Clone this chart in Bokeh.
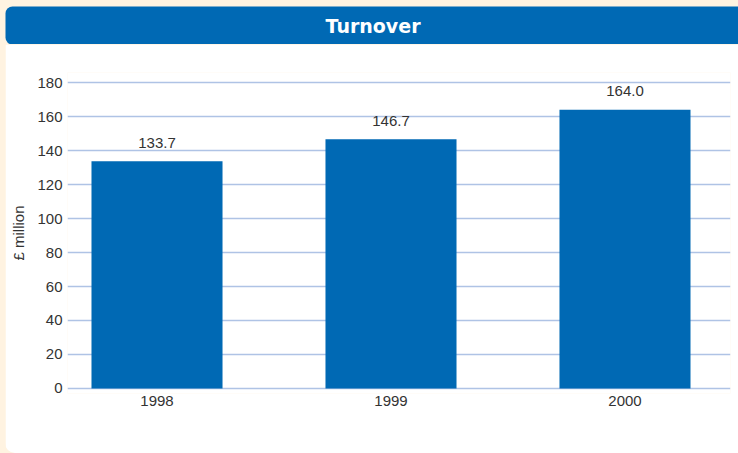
from bokeh.plotting import figure
from bokeh.layouts import column
from bokeh.models import ColumnDataSource, Range1d, FixedTicker, BoxAnnotation
from bokeh.embed import file_html
from bokeh.resources import INLINE
from bokeh.core.properties import value

title = "Turnover"
years = ["1998", "1999", "2000"]
turnover = [133.7, 146.7, 164.0]
y_ticks = [0, 20, 40, 60, 80, 100, 120, 140, 160, 180]
y_label = "£ million"

BLUE = "#0069B4"
TEXT = "#333333"
GRID = "#AFC3E5"
CREAM = "#FFF3E1"
FONT = "Liberation Sans"

# ---------- title bar ----------
TW, TH = 738, 44
t = figure(width=TW, height=TH, output_backend="svg", toolbar_location=None,
           x_range=Range1d(0, TW), y_range=Range1d(TH, 0),
           x_axis_type=None, y_axis_type=None, frame_align=False,
           min_border=0, min_border_left=0, min_border_right=0,
           min_border_top=0, min_border_bottom=0)
t.outline_line_color = None
t.background_fill_color = CREAM
t.border_fill_color = CREAM
t.grid.visible = False
t.add_layout(BoxAnnotation(left=5, right=TW + 20, top=6, bottom=TH,
                           fill_color=BLUE, fill_alpha=1.0, line_color=None,
                           border_radius=(7, 0, 0, 7), level="underlay"))
t.text(x=[372.5], y=[25], text=[title], text_align="center", text_baseline="middle",
       text_font=value("DejaVu Sans"), text_font_style="bold", text_font_size="19px",
       text_color="white")

# ---------- main chart ----------
xs = list(range(len(years)))
src = ColumnDataSource(dict(x=xs, top=turnover, label=[f"{v:.1f}" for v in turnover]))

W, H = 733, 409
p = figure(width=W, height=H, output_backend="svg", toolbar_location=None,
           x_range=Range1d(-0.3825, 2.4509), y_range=Range1d(-3, 186),
           min_border_left=62, min_border_right=8, min_border_top=28, min_border_bottom=60,
           margin=(0, 0, 0, 5), frame_align=False,
           styles={"border-bottom-left-radius": "10px", "overflow": "hidden"})
p.outline_line_color = None
p.background_fill_color = "white"
p.border_fill_color = "white"

p.vbar(x="x", top="top", bottom=0, width=0.56, source=src, fill_color=BLUE, line_color=None)
p.text(x="x", y="top", text="label", source=src, text_align="center", text_baseline="alphabetic",
       y_offset=-18.5, text_font=value(FONT), text_font_size="15px", text_color=TEXT)

p.xaxis.ticker = FixedTicker(ticks=xs)
p.xaxis.major_label_overrides = {i: yr for i, yr in enumerate(years)}
p.yaxis.ticker = FixedTicker(ticks=y_ticks)
p.ygrid.ticker = FixedTicker(ticks=y_ticks)
p.xgrid.visible = False
p.ygrid.grid_line_color = GRID
p.ygrid.grid_line_width = 1.5

for ax in (p.xaxis[0], p.yaxis[0]):
    ax.axis_line_color = None
    ax.major_tick_line_color = None
    ax.minor_tick_line_color = None
    ax.major_tick_out = 0
    ax.major_tick_in = 0
    ax.minor_tick_out = 0
    ax.minor_tick_in = 0
    ax.major_label_text_font = FONT
    ax.major_label_text_font_size = "15px"
    ax.major_label_text_color = TEXT

p.xaxis.major_label_standoff = 2
p.yaxis.major_label_standoff = 5
p.yaxis.axis_label = y_label
p.yaxis.axis_label_text_font = FONT
p.yaxis.axis_label_text_font_size = "15px"
p.yaxis.axis_label_text_font_style = "normal"
p.yaxis.axis_label_text_color = TEXT
p.yaxis.axis_label_standoff = 7

layout = column(t, p, spacing=0, styles={"background-color": CREAM})

open("out.html", "w").write(file_html(layout, INLINE))
